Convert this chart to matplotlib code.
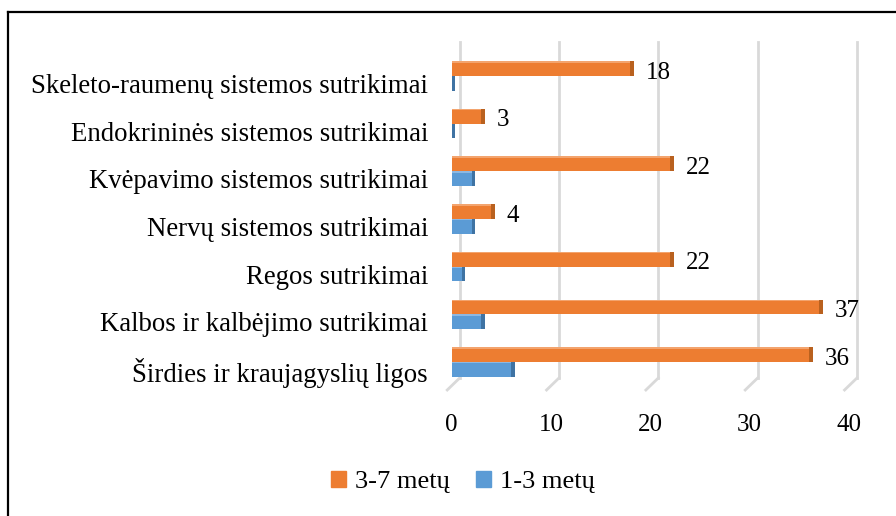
import matplotlib.pyplot as plt
from matplotlib.lines import Line2D
import matplotlib.patches as mpatches

# Data (bottom to top, as drawn)
categories = [
    "Širdies ir kraujagyslių ligos",
    "Kalbos ir kalbėjimo sutrikimai",
    "Regos sutrikimai",
    "Nervų sistemos sutrikimai",
    "Kvėpavimo sistemos sutrikimai",
    "Endokrininės sistemos sutrikimai",
    "Skeleto-raumenų sistemos sutrikimai",
]
older = [36, 37, 22, 4, 22, 3, 18]     # 3-7 metų
younger = [6, 3, 1, 2, 2, 0, 0]        # 1-3 metų
series_labels = ["3-7 metų", "1-3 metų"]
xticks = [0, 10, 20, 30, 40]

ORANGE = "#ED7D31"
ORANGE_DARK = "#B9611F"
ORANGE_LIGHT = "#F3A46E"
BLUE = "#5B9BD5"
BLUE_DARK = "#3F73A3"
BLUE_LIGHT = "#8DB8E2"
GRID = "#D9D9D9"
FONT = "Liberation Serif"

plt.rcParams["font.family"] = [FONT, "DejaVu Serif"]

W, H = 896, 516
fig = plt.figure(figsize=(W / 100, H / 100), dpi=100)
ax = fig.add_axes([451.7 / W, (H - 390) / H, (849 - 451.7) / W, 348 / H])

ypos = list(range(len(categories)))
bh = 0.31
cap = 0.35

# gridlines with a bit of 3D depth
floor = 12 / 348
for t in xticks:
    ax.plot([t + 0.8, t + 0.8], [floor, 1], transform=ax.get_xaxis_transform(),
            color=GRID, lw=2, zorder=0, clip_on=False)
    ax.plot([t + 0.8, t - 0.45], [floor, 0], transform=ax.get_xaxis_transform(),
            color=GRID, lw=2, zorder=0, clip_on=False)

y_or = [y + bh / 2 for y in ypos]
y_bl = [y - bh / 2 for y in ypos]

for yy, vals, c, cd, cl in [(y_or, older, ORANGE, ORANGE_DARK, ORANGE_LIGHT),
                            (y_bl, younger, BLUE, BLUE_DARK, BLUE_LIGHT)]:
    ax.barh(yy, vals, height=bh, color=c, zorder=3)
    ax.barh(yy, cap, left=vals, height=bh, color=cd, zorder=3)
    ax.barh([y + bh / 2 - 0.015 for y in yy], vals, height=0.03, color=cl, zorder=4)

for yv, v in zip(y_or, older):
    ax.annotate(str(v), xy=(v, yv), xytext=(11, -3), textcoords="offset points",
                ha="left", va="center", fontsize=18, color="black")

ax.set_xlim(0, 40)
ax.set_ylim(-0.587, 6.71)
ax.set_xticks(xticks)
ax.set_xticklabels([str(t) for t in xticks], fontsize=18)
ax.set_yticks([y - 0.16 for y in ypos])
ax.set_yticklabels(categories, fontsize=19.3)
ax.tick_params(axis="x", length=0, pad=17)
ax.tick_params(axis="y", length=0, pad=17)
for s in ax.spines.values():
    s.set_visible(False)
ax.set_facecolor("none")

handles = [mpatches.Patch(color=ORANGE, label=series_labels[0]),
           mpatches.Patch(color=BLUE, label=series_labels[1])]
fig.legend(handles=handles, loc="center", bbox_to_anchor=(463 / W, 1 - 482 / H),
           ncol=2, frameon=False, fontsize=19, handlelength=0.55, handleheight=0.55,
           handletextpad=0.35, columnspacing=1.0)

# chart frame (left and top edges visible)
fig.add_artist(Line2D([8 / W, 8 / W], [0, 1 - 12 / H], color="black", lw=1.6))
fig.add_artist(Line2D([8 / W, 1], [1 - 12 / H, 1 - 12 / H], color="black", lw=1.6))

fig.savefig("out.png", dpi=100)
